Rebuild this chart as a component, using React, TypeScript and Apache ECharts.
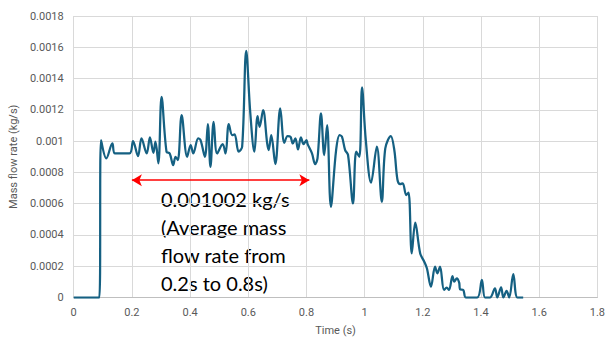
import React, { useEffect, useRef } from "react";
import * as echarts from "echarts";

const timeS: number[] = [
  0, 0.088, 0.094, 0.112, 0.133, 0.142, 0.192, 0.204, 0.221, 0.233,
  0.251, 0.262, 0.274, 0.281, 0.291, 0.302, 0.319, 0.33, 0.342, 0.35,
  0.358, 0.371, 0.39, 0.402, 0.411, 0.428, 0.436, 0.451, 0.461, 0.47,
  0.481, 0.493, 0.512, 0.522, 0.533, 0.545, 0.553, 0.567, 0.579, 0.593,
  0.607, 0.621, 0.632, 0.639, 0.651, 0.665, 0.67, 0.679, 0.693, 0.71,
  0.724, 0.735, 0.745, 0.753, 0.762, 0.771, 0.781, 0.79, 0.8, 0.804,
  0.819, 0.83, 0.838, 0.85, 0.861, 0.871, 0.884, 0.902, 0.914, 0.922,
  0.933, 0.943, 0.96, 0.971, 0.982, 0.991, 1.004, 1.022, 1.042, 1.059,
  1.071, 1.09, 1.102, 1.113, 1.122, 1.131, 1.143, 1.151, 1.162, 1.174,
  1.191, 1.205, 1.214, 1.228, 1.242, 1.25, 1.259, 1.273, 1.282, 1.29,
  1.302, 1.308, 1.317, 1.325, 1.328, 1.339, 1.348, 1.387, 1.403, 1.414,
  1.431, 1.448, 1.456, 1.469, 1.477, 1.488, 1.497, 1.511, 1.525, 1.545,
];

const massFlowRate: number[] = [
  0, 0, 0.001006, 0.000889, 0.000985, 0.000921, 0.000921, 0.001, 0.000904, 0.001017,
  0.000921, 0.001024, 0.000925, 0.000996, 0.000858, 0.001283, 0.000932, 0.000921, 0.000847, 0.0009,
  0.000879, 0.001166, 0.0009, 0.000975, 0.000921, 0.001017, 0.001006, 0.0009, 0.001109, 0.000836,
  0.001123, 0.000921, 0.000981, 0.000921, 0.001109, 0.001038, 0.001043, 0.000932, 0.000964, 0.001577,
  0.001179, 0.000932, 0.00116, 0.001091, 0.001198, 0.000985, 0.000943, 0.001038, 0.000853, 0.001209,
  0.000989, 0.001032, 0.001028, 0.000985, 0.001017, 0.000947, 0.001024, 0.000981, 0.001006, 0.000981,
  0.000921, 0.000853, 0.000889, 0.001177, 0.000911, 0.001102, 0.00058, 0.000943, 0.001038, 0.001028,
  0.000943, 0.000911, 0.000602, 0.000932, 0.0009, 0.001343, 0.001006, 0.000734, 0.000964, 0.000612,
  0.000953, 0.001032, 0.000943, 0.000751, 0.000725, 0.00073, 0.000655, 0.00067, 0.000282, 0.000478,
  0.000282, 0.000229, 0.000187, 0.000069, 0.000197, 0.000155, 0.000197, 0.000048, 0.000063, 0.000048,
  0.000137, 0.000101, 0.000123, 0.000095, 0.000052, 0.000048, 0, 0, 0.000112, 0,
  0, 0.000059, 0, 0.000065, 0, 0.000043, 0, 0.00015, 0, 0,
];

const averageFlow = 0.001002;
const averageFrom = 0.2;
const averageTo = 0.81;
const arrowLevel = 0.00075;
const annotationText = "0.001002 kg/s\n(Average mass\nflow rate from\n0.2s to 0.8s)";

export default function App() {
  const ref = useRef<HTMLDivElement>(null);
  useEffect(() => {
    if (!ref.current) return;
    const chart = echarts.init(ref.current, null, { renderer: "svg" });
    const data = timeS.map((t, i) => [t, massFlowRate[i]]);
    chart.setOption({
      animation: false,
      backgroundColor: "#ffffff",
      grid: { left: 73, right: 10, top: 16, bottom: 45.5, containLabel: false },
      xAxis: {
        type: "value",
        min: 0,
        max: 1.8,
        interval: 0.2,
        name: "Time (s)",
        nameLocation: "middle",
        nameGap: 27,
        nameTextStyle: { color: "#595959", fontSize: 11, fontFamily: "Roboto" },
        axisLine: { show: true, lineStyle: { color: "#bfbfbf", width: 1 } },
        axisTick: { show: false },
        axisLabel: {
          color: "#595959",
          fontSize: 11,
          fontFamily: "Roboto",
          margin: 9,
          formatter: (v: number) => String(+v.toFixed(1)),
        },
        splitLine: { show: true, lineStyle: { color: "#d9d9d9", width: 1 } },
      },
      yAxis: {
        type: "value",
        min: 0,
        max: 0.0018,
        interval: 0.0002,
        name: "Mass flow rate (kg/s)",
        nameLocation: "middle",
        nameGap: 52,
        nameTextStyle: { color: "#595959", fontSize: 11, fontFamily: "Roboto" },
        axisLine: { show: false },
        axisTick: { show: false },
        axisLabel: {
          color: "#595959",
          fontSize: 11,
          fontFamily: "Roboto",
          margin: 10,
          formatter: (v: number) => String(+v.toFixed(4)),
        },
        splitLine: { show: true, lineStyle: { color: "#d9d9d9", width: 1 } },
      },
      series: [
        {
          type: "line",
          data,
          showSymbol: false,
          smooth: 0.35,
          lineStyle: { color: "#156082", width: 2.25 },
          itemStyle: { color: "#156082" },
          markLine: {
            silent: true,
            symbol: ["arrow", "arrow"],
            symbolSize: [9, 10],
            label: { show: false },
            lineStyle: { color: "#ff0000", width: 1.5, type: "solid" },
            data: [
              [
                { coord: [averageFrom, arrowLevel] },
                { coord: [averageTo, arrowLevel] },
              ],
            ],
          },
        },
      ],
      graphic: [
        {
          type: "text",
          left: 161,
          top: 185,
          silent: true,
          style: {
            text: annotationText,
            fill: "#000000",
            font: "20px Lato",
            lineHeight: 28,
          },
          info: averageFlow,
        },
      ],
    });
    return () => chart.dispose();
  }, []);
  return (
    <div
      ref={ref}
      style={{ position: "fixed", left: 0, top: 0, width: 608, height: 343 }}
    />
  );
}
